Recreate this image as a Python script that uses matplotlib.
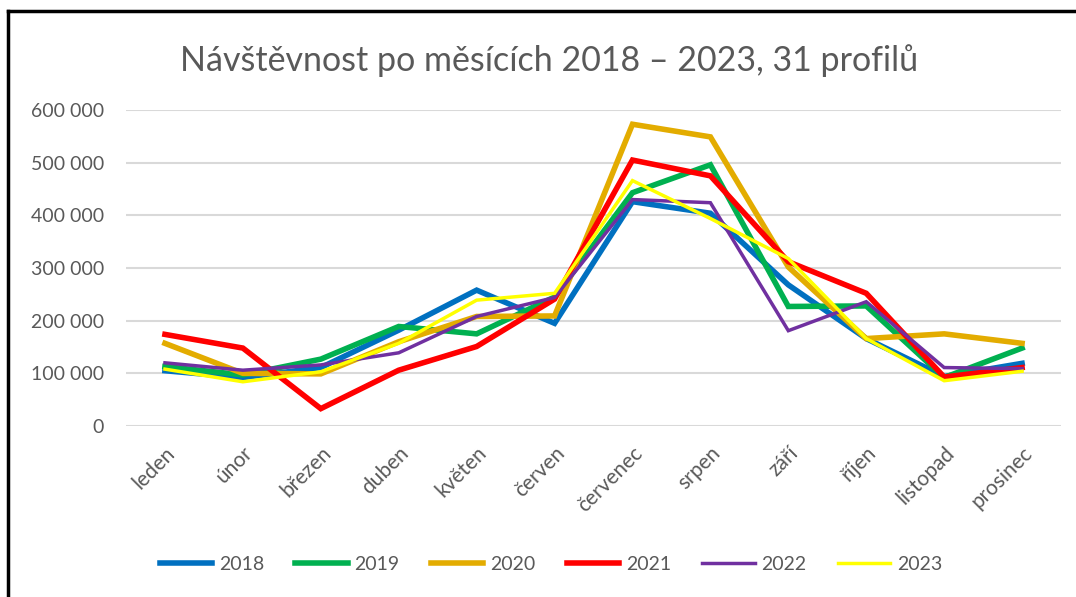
import matplotlib
matplotlib.use("Agg")
import matplotlib.pyplot as plt
from matplotlib.ticker import FuncFormatter
from matplotlib.lines import Line2D

plt.rcParams['font.family'] = ['Lato', 'DejaVu Sans']

# měsíce
mesice = ["leden", "únor", "březen", "duben", "květen", "červen",
          "červenec", "srpen", "září", "říjen", "listopad", "prosinec"]

# návštěvnost po letech
r2018 = [105000, 92000, 111000, 182000, 258000, 195000, 426000, 404000, 268000, 166000, 94000, 119000]
r2019 = [113000, 97000, 127000, 189000, 175000, 245000, 443000, 496000, 227000, 228000, 92000, 148000]
r2020 = [157000, 100000, 99000, 160000, 208000, 209000, 573000, 549000, 302000, 166000, 175000, 157000]
r2021 = [174000, 148000, 33000, 106000, 151000, 241000, 505000, 475000, 312000, 252000, 93000, 111000]
r2022 = [120000, 106000, 116000, 139000, 208000, 244000, 430000, 424000, 181000, 236000, 111000, 109000]
r2023 = [108000, 84000, 103000, 157000, 239000, 252000, 466000, 394000, 318000, 166000, 86000, 104000]

roky = ["2018", "2019", "2020", "2021", "2022", "2023"]
barvy = ["#0070C0", "#00B050", "#E3AC00", "#FF0000", "#7030A0", "#FFFF00"]
tloustky = [4.0, 4.0, 4.0, 4.0, 2.5, 2.5]
data = [r2018, r2019, r2020, r2021, r2022, r2023]

seda = "#595959"

fig = plt.figure(figsize=(10.76, 5.97), dpi=100)
ax = fig.add_axes([0.1171, 0.2864, 0.869, 0.5293])

x = range(len(mesice))
for rok, hodnoty, barva, lw in zip(roky, data, barvy, tloustky):
    ax.plot(x, hodnoty, color=barva, linewidth=lw, solid_joinstyle="miter", label=rok)

ax.set_xlim(-0.5, len(mesice) - 0.5)
ax.set_ylim(0, 600000)
ax.set_yticks(range(0, 600001, 100000))
ax.yaxis.set_major_formatter(FuncFormatter(lambda v, p: f"{int(v):,}".replace(",", " ")))
ax.grid(axis="y", color="#D9D9D9", linewidth=1.5)
ax.set_axisbelow(True)
for s in ax.spines.values():
    s.set_visible(False)
ax.tick_params(axis="both", length=0, labelcolor=seda)
ax.tick_params(axis="y", labelsize=14, pad=16)
ax.set_xticks(list(x))
ax.set_xticklabels(mesice, rotation=45, ha="right", va="top", rotation_mode="anchor")
ax.tick_params(axis="x", labelsize=15, pad=12)

fig.text(0.51, 0.898, "Návštěvnost po měsících 2018 – 2023, 31 profilů",
         ha="center", va="center", fontsize=24.5, color=seda)

handles = [Line2D([], [], color=b, linewidth=lw) for b, lw in zip(barvy, tloustky)]
fig.legend(handles, roky, loc="center", bbox_to_anchor=(0.512, 0.055), ncol=6,
           frameon=False, fontsize=14, labelcolor=seda, handlelength=2.7,
           handletextpad=0.35, columnspacing=1.6)

# rámeček grafu (vidět je jen levá a horní hrana)
fig.add_artist(Line2D([8 / 1076, 8 / 1076], [0, 1 - 11 / 597], color="black", linewidth=2.5,
                      transform=fig.transFigure))
fig.add_artist(Line2D([8 / 1076, 1], [1 - 11 / 597, 1 - 11 / 597], color="black", linewidth=2.5,
                      transform=fig.transFigure))

fig.savefig("out.png", dpi=100)
